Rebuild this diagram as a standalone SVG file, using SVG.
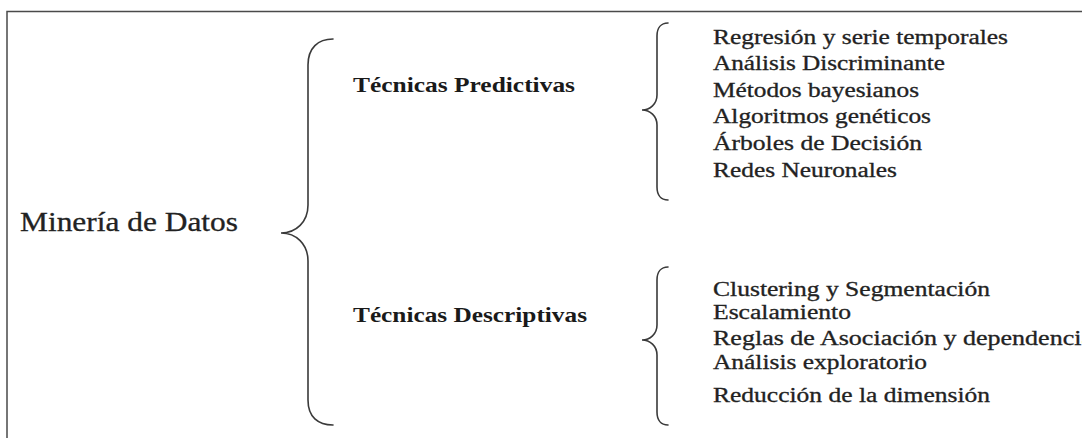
<svg xmlns="http://www.w3.org/2000/svg" width="1082" height="438" viewBox="0 0 1082 438">
<style>
.frame{fill:none;stroke:#4a4a4a;stroke-width:1.5}
.brace{fill:none;stroke:#3a3a3a;stroke-width:1.6;stroke-linecap:round}
.root{font-family:"Liberation Serif","Times New Roman",serif;font-size:27px;fill:#222;stroke:#222;stroke-width:0.3}
.head{font-family:"Liberation Serif","Times New Roman",serif;font-size:22px;font-weight:bold;fill:#1a1a1a}
.item{font-family:"Liberation Serif","Times New Roman",serif;font-size:20px;fill:#222;stroke:#222;stroke-width:0.3}
</style>
<rect x="0" y="0" width="1082" height="438" fill="#fff"/>
<path class="frame" d="M7,440 L7,11.5 L1084,11.5"/>
<g id="connectors">
<path class="brace" d="M333,39 C318,39 308,48 308,65 L308,205 C308,222 296,233 281,233 C296,233 308,244 308,261 L308,400 C308,417 318,425 333,425"/>
<path class="brace" d="M668,23 C661,23 657,28 657,36 L657,95 C657,104 650,110 642,110 C650,110 657,116 657,125 L657,187 C657,195 661,200 668,200"/>
<path class="brace" d="M668,267 C661,267 657,272 657,280 L657,325 C657,334 650,340 642,340 C650,340 657,346 657,355 L657,412 C657,420 661,425 668,425"/>
</g>
<g id="mineria">
<text class="root" x="20" y="231" textLength="218" lengthAdjust="spacingAndGlyphs">Minería de Datos</text>
</g>
<g id="predictivas">
<text class="head" x="353" y="92" textLength="222" lengthAdjust="spacingAndGlyphs">Técnicas Predictivas</text>
</g>
<g id="descriptivas">
<text class="head" x="353" y="322" textLength="234" lengthAdjust="spacingAndGlyphs">Técnicas Descriptivas</text>
</g>
<g id="predictivas-items">
<text class="item" x="713" y="44" textLength="295" lengthAdjust="spacingAndGlyphs">Regresión y serie temporales</text>
<text class="item" x="713" y="70" textLength="232" lengthAdjust="spacingAndGlyphs">Análisis Discriminante</text>
<text class="item" x="713" y="97" textLength="206" lengthAdjust="spacingAndGlyphs">Métodos bayesianos</text>
<text class="item" x="713" y="123" textLength="218" lengthAdjust="spacingAndGlyphs">Algoritmos genéticos</text>
<text class="item" x="713" y="150" textLength="209" lengthAdjust="spacingAndGlyphs">Árboles de Decisión</text>
<text class="item" x="713" y="177" textLength="184" lengthAdjust="spacingAndGlyphs">Redes Neuronales</text>
</g>
<g id="descriptivas-items">
<text class="item" x="713" y="296" textLength="277" lengthAdjust="spacingAndGlyphs">Clustering y Segmentación</text>
<text class="item" x="713" y="319" textLength="138" lengthAdjust="spacingAndGlyphs">Escalamiento</text>
<text class="item" x="713" y="345" textLength="380" lengthAdjust="spacingAndGlyphs">Reglas de Asociación y dependencia</text>
<text class="item" x="713" y="369" textLength="214" lengthAdjust="spacingAndGlyphs">Análisis exploratorio</text>
<text class="item" x="713" y="402" textLength="277" lengthAdjust="spacingAndGlyphs">Reducción de la dimensión</text>
</g>
</svg>
